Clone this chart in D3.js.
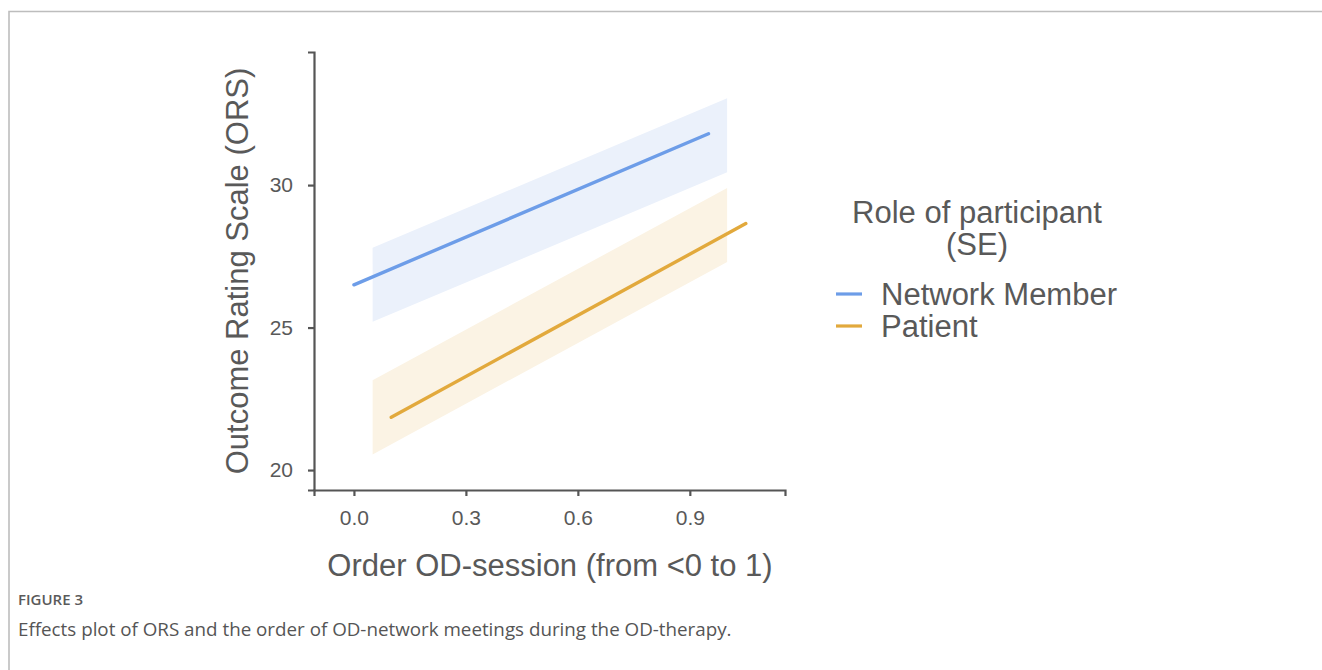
<!DOCTYPE html>
<html>
<head>
<meta charset="utf-8">
<script src="https://cdn.jsdelivr.net/npm/d3@7"></script>
<style>
  html, body { margin: 0; padding: 0; background: #fff; }
  svg { display: block; }
</style>
</head>
<body>
<svg id="fig" width="1322" height="670"></svg>
<script>
// Fitted effect of session order on ORS, by participant role
const seriesNames = ["Network Member", "Patient"];
const seriesColors = ["#6d9de8", "#e2a93c"];
const bandColors = ["#ebf1fb", "#fbf3e4"];
const legendTitle = ["Role of participant", "(SE)"];

// fitted line end points (x, y)
const memberLineX = [0.0, 0.95];
const memberLineY = [26.5, 31.8];
const patientLineX = [0.1, 1.05];
const patientLineY = [21.85, 28.65];

// confidence band end points (x, lower, upper)
const bandX = [0.05, 1.0];
const memberLower = [25.2, 30.45];
const memberUpper = [27.8, 33.05];
const patientLower = [20.55, 27.3];
const patientUpper = [23.15, 29.9];

const xTicks = [0.0, 0.3, 0.6, 0.9];
const yTicks = [20, 25, 30];

const svg = d3.select("#fig");
const font = "'Liberation Sans', Arial, sans-serif";
const textGray = "#595959";
const titleSize = "31px";

// figure frame (top and left rules)
svg.append("path")
  .attr("d", "M9,670 V11.5 H1322")
  .attr("fill", "none")
  .attr("stroke", "#bdbdbd")
  .attr("stroke-width", 1.6);

const x = d3.scaleLinear().domain([-0.107, 1.155]).range([314, 785]);
const y = d3.scaleLinear().domain([19.3, 34.67]).range([490, 52]);

const series = [
  { lx: memberLineX, ly: memberLineY, lo: memberLower, hi: memberUpper },
  { lx: patientLineX, ly: patientLineY, lo: patientLower, hi: patientUpper }
];

const area = d3.area()
  .x(d => x(d.x)).y0(d => y(d.lo)).y1(d => y(d.hi));
const line = d3.line().x(d => x(d[0])).y(d => y(d[1]));

series.forEach((s, i) => {
  const pts = bandX.map((bx, j) => ({ x: bx, lo: s.lo[j], hi: s.hi[j] }));
  svg.append("path").attr("d", area(pts)).attr("fill", bandColors[i]);
});
series.forEach((s, i) => {
  const pts = s.lx.map((lx, j) => [lx, s.ly[j]]);
  svg.append("path").attr("d", line(pts))
    .attr("fill", "none")
    .attr("stroke", seriesColors[i])
    .attr("stroke-width", 3.4)
    .attr("stroke-linecap", "round");
});

// axes
const yAxis = svg.append("g").attr("transform", "translate(314,0)")
  .call(d3.axisLeft(y).tickValues(yTicks).tickSize(6).tickPadding(15).tickFormat(d3.format("d")));
const xAxis = svg.append("g").attr("transform", "translate(0,490)")
  .call(d3.axisBottom(x).tickValues(xTicks).tickSize(6).tickPadding(14).tickFormat(d3.format(".1f")));

[xAxis, yAxis].forEach(g => {
  g.select(".domain").attr("stroke", "#555").attr("stroke-width", 2.2);
  g.selectAll(".tick line").attr("stroke", "#555").attr("stroke-width", 2.2);
  g.selectAll(".tick text")
    .attr("fill", textGray)
    .style("font-family", font)
    .style("font-size", "21px");
});

// axis titles
svg.append("text")
  .attr("transform", "translate(248,271) rotate(-90)")
  .attr("text-anchor", "middle")
  .attr("fill", textGray)
  .style("font-family", font)
  .style("font-size", titleSize)
  .text("Outcome Rating Scale (ORS)");

svg.append("text")
  .attr("x", 550).attr("y", 576)
  .attr("text-anchor", "middle")
  .attr("fill", textGray)
  .style("font-family", font)
  .style("font-size", titleSize)
  .text("Order OD-session (from <0 to 1)");

// legend: two-line title, then one key per series
const legend = svg.append("g");
legendTitle.forEach((t, i) => {
  legend.append("text")
    .attr("x", 977).attr("y", 223 + i * 32)
    .attr("text-anchor", "middle")
    .attr("fill", textGray)
    .style("font-family", font)
    .style("font-size", titleSize)
    .text(t);
});

seriesNames.forEach((name, i) => {
  const yy = 294 + i * 32;
  legend.append("line")
    .attr("x1", 836).attr("x2", 862)
    .attr("y1", yy).attr("y2", yy)
    .attr("stroke", seriesColors[i])
    .attr("stroke-width", 3.2);
  legend.append("text")
    .attr("x", 881).attr("y", yy + 11)
    .attr("fill", textGray)
    .style("font-family", font)
    .style("font-size", titleSize)
    .text(name);
});

// caption
svg.append("text")
  .attr("x", 18).attr("y", 605)
  .attr("fill", "#5a5a5a")
  .style("font-family", "'Open Sans', sans-serif")
  .style("font-size", "15px")
  .style("font-weight", 600)
  .text("FIGURE 3");
svg.append("text")
  .attr("x", 18).attr("y", 636)
  .attr("fill", "#555")
  .style("font-family", "'Open Sans', sans-serif")
  .style("font-size", "18.8px")
  .text("Effects plot of ORS and the order of OD-network meetings during the OD-therapy.");
</script>
</body>
</html>
